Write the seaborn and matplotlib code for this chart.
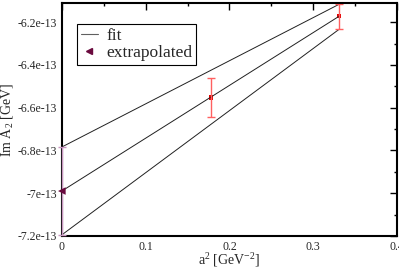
import numpy as np
import pandas as pd
import matplotlib
matplotlib.use("Agg")
import matplotlib.pyplot as plt
import seaborn as sns
from matplotlib.ticker import MultipleLocator, FuncFormatter
from matplotlib.lines import Line2D

# Data
a2 = [0.178, 0.331]
im_a2 = [-6.552e-13, -6.172e-13]
im_a2_lo = [-6.644e-13, -6.233e-13]
im_a2_hi = [-6.462e-13, -6.116e-13]

extrap_x = [0.0]
extrap_y = [-6.99e-13]
extrap_lo = [-7.195e-13]
extrap_hi = [-6.784e-13]

# fit lines: central, upper, lower (endpoints at x=0 and x=0.331)
fit_x = [0.0, 0.331]
fit_mid = [-6.99e-13, -6.172e-13]
fit_up = [-6.784e-13, -6.116e-13]
fit_dn = [-7.195e-13, -6.233e-13]

sns.set_style("white")
plt.rcParams["font.family"] = ["Liberation Serif", "DejaVu Serif"]
plt.rcParams["mathtext.default"] = "regular"

fig = plt.figure(figsize=(3.99, 2.69), dpi=100)
ax = fig.add_axes([0.155, 0.123, 0.84, 0.866])

fits = pd.DataFrame({
    "x": fit_x * 3,
    "y": fit_mid + fit_up + fit_dn,
    "band": ["mid"] * 2 + ["up"] * 2 + ["dn"] * 2,
})
sns.lineplot(data=fits, x="x", y="y", units="band", estimator=None,
             color="#202020", lw=0.7, ax=ax, legend=False)

# data points with error bars
yerr = [np.array(im_a2) - np.array(im_a2_lo), np.array(im_a2_hi) - np.array(im_a2)]
eb = ax.errorbar(a2, im_a2, yerr=yerr, fmt="none", ecolor="#ff6060", elinewidth=1.0,
                 capsize=3, capthick=1.0)
for art in eb.get_children():
    art.set_clip_on(False)
sns.scatterplot(x=a2, y=im_a2, marker="s", s=10, color="#e00000",
                edgecolor="none", ax=ax, clip_on=False)

# extrapolated point
eyerr = [np.array(extrap_y) - np.array(extrap_lo), np.array(extrap_hi) - np.array(extrap_y)]
eb2 = ax.errorbar(extrap_x, extrap_y, yerr=eyerr, fmt="none", ecolor="#c896c0",
                  elinewidth=1.0, capsize=3, capthick=1.0, zorder=3)
for art in eb2.get_children():
    art.set_clip_on(False)
    art.set_zorder(3)
sns.scatterplot(x=extrap_x, y=extrap_y, marker="<", s=30, color="#6a0a3e",
                edgecolor="none", ax=ax, clip_on=False, zorder=5)

ax.set_xlim(0, 0.4)
ax.set_ylim(-7.2e-13, -6.11e-13)
ax.xaxis.set_major_locator(MultipleLocator(0.1))
ax.xaxis.set_minor_locator(MultipleLocator(0.05))
ax.yaxis.set_major_locator(MultipleLocator(0.2e-13))
ax.yaxis.set_minor_locator(MultipleLocator(0.1e-13))
ax.xaxis.set_major_formatter(FuncFormatter(lambda v, p: f"{v:g}"))
ax.yaxis.set_major_formatter(FuncFormatter(lambda v, p: f"{v:.3g}"))
ax.yaxis.get_offset_text().set_visible(False)
ax.tick_params(which="both", direction="in", top=True, right=True,
               labelsize=8.5, width=1.0, color="black")
ax.tick_params(which="major", length=5)
ax.tick_params(which="minor", length=2.5)
for s in ax.spines.values():
    s.set_linewidth(1.5)
    s.set_color("black")

ax.set_xlabel("a$^2$ [GeV$^{-2}$]", fontsize=10, labelpad=-1)
ax.set_ylabel("Im A$_2$ [GeV]", fontsize=10, labelpad=2)

handles = [
    Line2D([], [], color="#606060", lw=0.8),
    Line2D([], [], color="#6a0a3e", marker="<", ls="none", markersize=5),
]
leg = ax.legend(handles, ["fit", "extrapolated"], loc="upper left",
                bbox_to_anchor=(0.02, 0.945), fontsize=12.5, frameon=True,
                fancybox=False, edgecolor="black", framealpha=1,
                handlelength=1.0, handletextpad=0.5, borderpad=0.2,
                labelspacing=0.05)
leg.get_frame().set_linewidth(0.8)

fig.savefig("out.png", dpi=100)
